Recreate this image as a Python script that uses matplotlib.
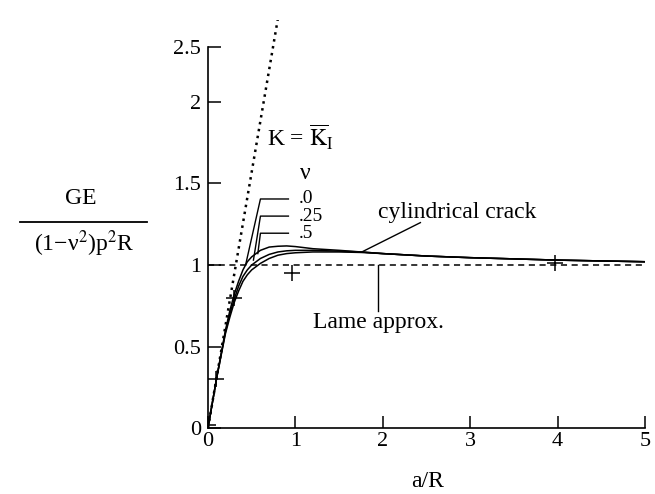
import numpy as np
import matplotlib
matplotlib.use("Agg")
import matplotlib.pyplot as plt

plt.rcParams['font.family'] = ['Liberation Serif', 'DejaVu Serif']
plt.rcParams['mathtext.fontset'] = 'stix'

# data
a_r = [0, 0.1, 0.2, 0.25, 0.3, 0.35, 0.4, 0.45, 0.5, 0.6, 0.7, 0.8, 0.9, 1.0,
       1.2, 1.5, 1.75, 2.0, 2.5, 3.0, 4.0, 5.0]
g_nu0 = [0, 0.31, 0.60, 0.72, 0.82, 0.90, 0.97, 1.02, 1.05, 1.09, 1.11, 1.115,
         1.117, 1.113, 1.10, 1.09, 1.08, 1.07, 1.055, 1.045, 1.03, 1.02]
g_nu25 = [0, 0.31, 0.59, 0.70, 0.79, 0.87, 0.93, 0.97, 1.00, 1.04, 1.065, 1.08,
          1.087, 1.09, 1.09, 1.085, 1.08, 1.07, 1.055, 1.045, 1.03, 1.02]
g_nu5 = [0, 0.31, 0.58, 0.68, 0.77, 0.84, 0.90, 0.94, 0.97, 1.01, 1.04, 1.06,
         1.07, 1.075, 1.08, 1.08, 1.077, 1.07, 1.055, 1.045, 1.03, 1.02]
griffith_x = [0, 0.8]
griffith_y = [0, np.pi * 0.8]
lame_x = [0, 5]
lame_y = [1, 1]
plus_x = [0.0, 0.09, 0.3, 0.96, 3.97]
plus_y = [0.02, 0.30, 0.80, 0.95, 1.01]

fig = plt.figure(figsize=(6.55, 4.94), dpi=100)
ax = fig.add_axes([208 / 655, 66 / 494, 437 / 655, 407.5 / 494])

for g in (g_nu0, g_nu25, g_nu5):
    ax.plot(a_r, g, color='black', lw=1.1)
ax.plot(griffith_x, griffith_y, color='black', ls=(0, (1, 1.8)), lw=1.8)
ax.plot(lame_x, lame_y, color='black', ls=(0, (4, 3)), lw=1.1)
ax.plot(plus_x, plus_y, ls='none', marker='+', ms=11, mew=1.1, color='black')

ax.set_xlim(0, 5)
ax.set_ylim(0, 2.5)
for s in ('top', 'right'):
    ax.spines[s].set_visible(False)
ax.spines['left'].set_bounds(0, 2.337)
for s in ('left', 'bottom'):
    ax.spines[s].set_linewidth(1.2)
ax.set_xticks([0, 1, 2, 3, 4, 5])
ax.set_yticks([0, 0.5, 1, 1.5, 2, 2.337])
ax.set_yticklabels(['0', '0.5', '1', '1.5', '2', '2.5'])
ax.tick_params(direction='in', length=9, width=1.1, labelsize=16, pad=5)
ax.tick_params(axis='x', pad=3)

# annotations
ax.text(0.67, 1.78, r'K = $\overline{\mathrm{K}}_{\mathrm{I}}$', fontsize=17, va='center')
ax.text(1.11, 1.56, 'ν', fontsize=17, ha='center', va='center')
for lab, ty, tip in (('.0', 1.405, (0.43, 1.00)), ('.25', 1.30, (0.52, 1.03)),
                     ('.5', 1.195, (0.57, 1.07))):
    ax.plot([tip[0], 0.60, 0.92], [tip[1], ty, ty], color='black', lw=1.0)
    ax.text(1.04, ty, lab, fontsize=14, va='center')
ax.text(2.85, 1.32, 'cylindrical crack', fontsize=17, ha='center', va='center')
ax.plot([2.43, 1.76], [1.26, 1.08], color='black', lw=1.0)
ax.text(1.95, 0.65, 'Lame approx.', fontsize=17, ha='center', va='center')
ax.plot([1.95, 1.95], [1.0, 0.72], color='black', lw=1.0)

fig.text(428 / 655, 1 - 481 / 494, 'a/R', fontsize=17, ha='center', va='center')
fig.text(81 / 655, 1 - 199 / 494, 'GE', fontsize=17, ha='center', va='center')
fig.add_artist(plt.Line2D([20 / 655, 147 / 655], [1 - 222 / 494, 1 - 222 / 494],
                          color='black', lw=1.3))
fig.text(84 / 655, 1 - 244 / 494, '(1−ν$^2$)p$^2$R', fontsize=17,
         ha='center', va='center')

fig.savefig('out.png', dpi=100)
